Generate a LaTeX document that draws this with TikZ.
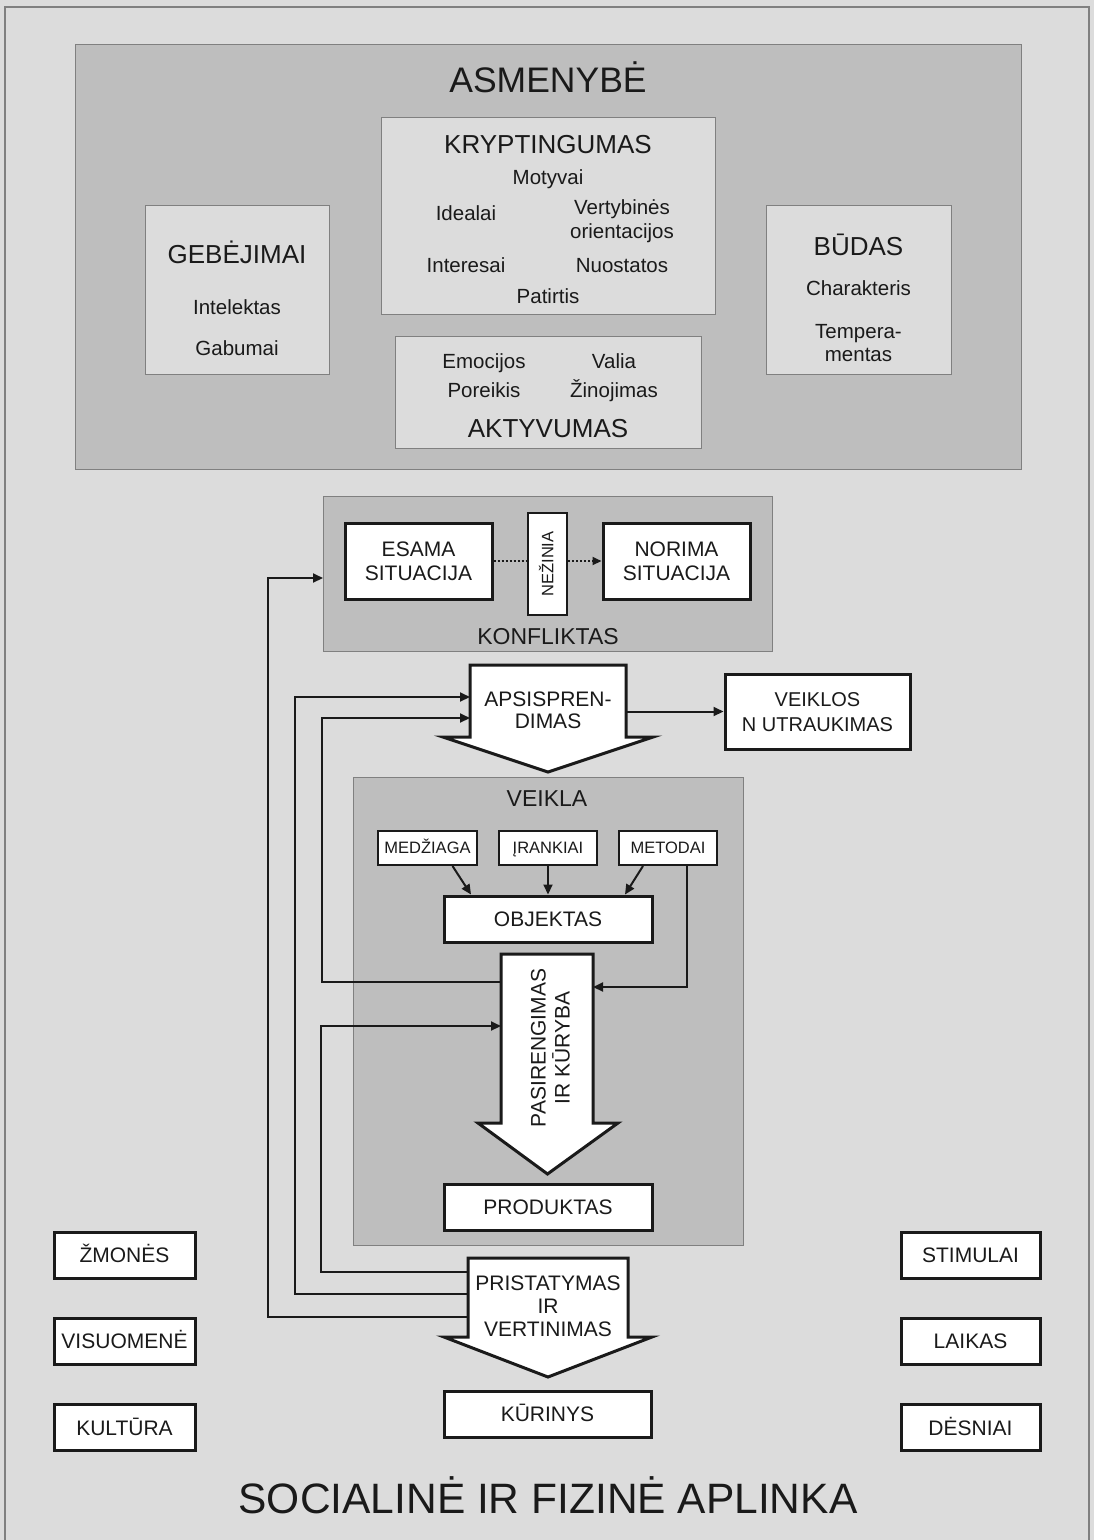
\documentclass[tikz,border=0pt]{standalone}
\usepackage{fontspec}
\setmainfont{Liberation Sans}
\usetikzlibrary{arrows.meta,calc}
\definecolor{bgc}{HTML}{DCDCDC}
\definecolor{panel}{HTML}{BEBEBE}
\definecolor{framec}{HTML}{808080}
\definecolor{ink}{HTML}{1A1A1A}
\newcommand{\fs}[1]{\fontsize{#1}{#1}\selectfont}
\begin{document}
\begin{tikzpicture}[x=1pt,y=-1pt,
  panelbox/.style={draw=framec, line width=1.3pt, fill=panel, anchor=north west, inner sep=0pt},
  lightbox/.style={draw=framec, line width=1.3pt, fill=bgc, anchor=north west, inner sep=0pt},
  whitebox/.style={draw=ink, line width=3pt, fill=white, align=center, font=\fs{21}, text=ink, inner sep=0pt, text height=15pt, text depth=0pt},
  smallbox/.style={draw=ink, line width=2pt, fill=white, font=\fs{16.5}, text=ink, inner sep=0pt, text height=11.8pt, text depth=0pt},
  bigarrow/.style={draw=ink, line width=3pt, fill=white, line join=miter},
  conn/.style={draw=ink, line width=2pt},
  tip/.style={-{Triangle[length=10pt,width=9pt]}},
  lbl/.style={text=ink, align=center, inner sep=0pt},
  title/.style={lbl, font=\fs{26}, text height=18.6pt, text depth=0pt},
  item/.style={lbl, font=\fs{20.5}, text height=14.7pt, text depth=0pt}
]
\useasboundingbox (0,0) rectangle (1094,1540);
\fill[bgc] (0,0) rectangle (1094,1540);
\draw[framec, line width=1.5pt] (5,1545) -- (5,7) -- (1089,7) -- (1089,1545);

% ---------- ASMENYBE ----------
\node[panelbox, minimum width=946, minimum height=425] (asm) at (75,44) {};
\node[lbl, font=\fs{35.5}, text height=25.4pt, text depth=0pt] (asmT) at (548,80) {ASMENYBĖ};

\node[lightbox, minimum width=334, minimum height=197] (kryp) at (381,117) {};
\node[title] (krypT) at (548,144) {KRYPTINGUMAS};
\node[item] (motyvai) at (548,177) {Motyvai};
\node[item] (idealai) at (466,213) {Idealai};
\node[item, font={\fontsize{20.5}{23.5}\selectfont}, text height=38.2pt] (vertyb) at (622,219) {Vertybinės\\orientacijos};
\node[item] (interesai) at (466,265) {Interesai};
\node[item] (nuostatos) at (622,265) {Nuostatos};
\node[item] (patirtis) at (548,296) {Patirtis};

\node[lightbox, minimum width=184, minimum height=169] (geb) at (145,205) {};
\node[title] (gebT) at (237,254) {GEBĖJIMAI};
\node[item] (intelektas) at (237,307) {Intelektas};
\node[item] (gabumai) at (237,348) {Gabumai};

\node[lightbox, minimum width=185, minimum height=169] (bud) at (766,205) {};
\node[title] (budT) at (858.5,246) {BŪDAS};
\node[item] (charakteris) at (858.5,288) {Charakteris};
\node[item, font={\fontsize{20.5}{23}\selectfont}, text height=37.7pt] (temper) at (858.5,342.5) {Tempera-\\mentas};

\node[lightbox, minimum width=306, minimum height=112] (akt) at (395,336) {};
\node[item] (emocijos) at (484,361) {Emocijos};
\node[item] (valia) at (614,361) {Valia};
\node[item] (poreikis) at (484,390) {Poreikis};
\node[item] (zinojimas) at (614,390) {Žinojimas};
\node[title] (aktT) at (548,428) {AKTYVUMAS};

% ---------- KONFLIKTAS ----------
\node[panelbox, minimum width=449, minimum height=155] (konf) at (323,496) {};
\node[whitebox, minimum width=147, minimum height=76, font={\fontsize{21}{24}\selectfont}, text height=39pt] (esama) at (418.5,561) {ESAMA\\SITUACIJA};
\node[whitebox, line width=2.5pt, minimum width=39, minimum height=102] (nezinia) at (547.5,564) {};
\node[lbl, rotate=90, font=\fs{16.5}, text height=11.8pt, text depth=0pt] (nezT) at (547.5,564) {NEŽINIA};
\node[whitebox, minimum width=147, minimum height=76, font={\fontsize{21}{24}\selectfont}, text height=39pt] (norima) at (676.5,561) {NORIMA\\SITUACIJA};
\node[lbl, font=\fs{23}, text height=16.5pt, text depth=0pt] (konfT) at (548,636) {KONFLIKTAS};
\draw[conn, dash pattern=on 2pt off 2pt] (esama.east) -- (esama.east -| nezinia.west);
\draw[conn, dash pattern=on 2pt off 2pt, -{Triangle[length=9pt,width=8pt]}] (norima.west -| nezinia.east) -- (norima.west);
\coordinate (konfL) at (323,578);

% ---------- APSISPRENDIMAS ----------
\draw[bigarrow] (470,665) -- (626,665) -- (626,737) -- (653,737) -- (548,772) -- (443,737) -- (470,737) -- cycle;
\node[lbl, font={\fontsize{21}{22}\selectfont}, text height=37pt, text depth=0pt] (apsT) at (548,710) {APSISPREN-\\DIMAS};
\coordinate (apsL1) at (470,697);
\coordinate (apsL2) at (470,718);
\coordinate (apsR) at (626,711.5);
\node[whitebox, minimum width=185, minimum height=75, font={\fontsize{20}{25}\selectfont}, text height=39.3pt] (veiklos) at (817.5,711.5) {VEIKLOS\\N UTRAUKIMAS};
\draw[conn, tip] (apsR) -- (veiklos.west);

% ---------- VEIKLA ----------
\node[panelbox, minimum width=390, minimum height=468] (veikla) at (353,777) {};
\node[lbl, font=\fs{23}, text height=16.5pt, text depth=0pt] (veiklaT) at (547,798) {VEIKLA};
\node[smallbox, minimum width=99, minimum height=34] (medziaga) at (427.5,848) {MEDŽIAGA};
\node[smallbox, minimum width=98, minimum height=34] (irankiai) at (548,848) {ĮRANKIAI};
\node[smallbox, minimum width=98, minimum height=34] (metodai) at (668,848) {METODAI};
\node[whitebox, minimum width=208, minimum height=46] (objektas) at (548,919) {OBJEKTAS};
\draw[conn, tip] ([xshift=25]medziaga.south) -- ([xshift=-77]objektas.north);
\draw[conn, tip] (irankiai.south) -- (objektas.north);
\draw[conn, tip] ([xshift=-25]metodai.south) -- ([xshift=77]objektas.north);

\draw[bigarrow] (501,954) -- (593,954) -- (593,1123) -- (618,1123) -- (547.5,1174) -- (478,1123) -- (501,1123) -- cycle;
\node[lbl, rotate=90, font={\fontsize{21}{24}\selectfont}, text height=39pt, text depth=0pt] (pasT) at (550,1048) {PASIRENGIMAS\\IR KŪRYBA};
\coordinate (pasL1) at (501,982);
\coordinate (pasL2) at (501,1026);
\coordinate (pasR) at (593,987);
\draw[conn, tip] ([xshift=19]metodai.south) |- (pasR);

\node[whitebox, minimum width=208, minimum height=46] (produktas) at (548,1207) {PRODUKTAS};

% ---------- PRISTATYMAS ----------
\draw[bigarrow] (468,1258) -- (628,1258) -- (628,1337) -- (652,1337) -- (548,1377) -- (444,1337) -- (468,1337) -- cycle;
\node[lbl, font={\fontsize{21}{23}\selectfont}, text height=61pt, text depth=0pt] (priT) at (548,1306) {PRISTATYMAS\\IR\\VERTINIMAS};
\coordinate (priL1) at (468,1272);
\coordinate (priL2) at (468,1294);
\coordinate (priL3) at (468,1317);

\node[whitebox, minimum width=207, minimum height=46] (kurinys) at (547.5,1414) {KŪRINYS};

% ---------- feedback connectors ----------
\draw[conn, tip] (priL3) -- (268,1317) -- (268,578) -- (konfL);
\draw[conn, tip] (priL2) -- (295,1294) -- (295,697) -- (apsL1);
\draw[conn, tip] (priL1) -- (321,1272) -- (321,1026) -- (pasL2);
\draw[conn, tip] (pasL1) -- (322,982) -- (322,718) -- (apsL2);

% ---------- environment ----------
\node[whitebox, minimum width=141, minimum height=46] (zmones) at (124.5,1255) {ŽMONĖS};
\node[whitebox, minimum width=141, minimum height=46] (visuomene) at (124.5,1341) {VISUOMENĖ};
\node[whitebox, minimum width=141, minimum height=46] (kultura) at (124.5,1427.5) {KULTŪRA};
\node[whitebox, minimum width=139, minimum height=46] (stimulai) at (970.5,1255) {STIMULAI};
\node[whitebox, minimum width=139, minimum height=46] (laikas) at (970.5,1341) {LAIKAS};
\node[whitebox, minimum width=139, minimum height=46] (desniai) at (970.5,1427.5) {DĖSNIAI};

\node[lbl, font=\fs{42.5}, text height=30.4pt, text depth=0pt] (aplinka) at (548,1498) {SOCIALINĖ IR FIZINĖ APLINKA};
\end{tikzpicture}
\end{document}
